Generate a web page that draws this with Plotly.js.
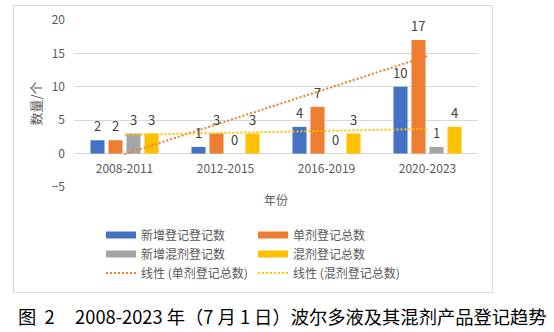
<!DOCTYPE html>
<html>
<head>
<meta charset="utf-8">
<script src="https://cdn.plot.ly/plotly-3.0.1.min.js"></script>
<style>html,body{margin:0;padding:0;background:#fff;}#chart{width:554px;height:332px;}</style>
</head>
<body>
<div id="chart"></div>
<script>
// ---- data ----
const categories = ['2008-2011', '2012-2015', '2016-2019', '2020-2023'];
const newSingle = [2, 1, 4, 10];     // 新增登记登记数
const totalSingle = [2, 3, 7, 17];   // 单剂登记总数
const newMix = [3, 0, 0, 1];         // 新增混剂登记数
const totalMix = [3, 3, 3, 4];       // 混剂登记总数
const seriesNames = ['新增登记登记数', '单剂登记总数', '新增混剂登记数', '混剂登记总数'];
const trendNames = ['线性 (单剂登记总数)', '线性 (混剂登记总数)'];
const yTicks = [-5, 0, 5, 10, 15, 20];
const yTitle = '数量/个';
const xTitle = '年份';
const caption = '图\u00a0\u00a02\u00a0\u00a0\u00a0\u00a0\u00a02008-2023 年（7 月 1 日）波尔多液及其混剂产品登记趋势';

// ---- styles ----
const colors = ['#4472C4', '#ED7D31', '#A5A5A5', '#FFC000'];
const FONT = '"Noto Sans CJK SC", "Noto Sans", sans-serif';
const W = 554, H = 332;
const M = {l: 74, r: 76, t: 20, b: 145};
const plotW = W - M.l - M.r, plotH = H - M.t - M.b;
const yRange = [yTicks[0], yTicks[yTicks.length - 1]];
const bargap = 0.287, bargroupgap = 0.22;
const px2x = p => (p - M.l) / plotW;
const px2y = p => (H - M.b - p) / plotH;

const allSeries = [newSingle, totalSingle, newMix, totalMix];
const traces = [];
allSeries.forEach((vals, s) => {
  traces.push({
    type: 'bar', x: categories, y: vals, name: seriesNames[s],
    marker: {color: colors[s]}, showlegend: false, hoverinfo: 'skip'
  });
});

function linfit(vals) {
  const n = vals.length;
  const xs = vals.map((_, i) => i + 1);
  const mx = xs.reduce((a, b) => a + b, 0) / n;
  const my = vals.reduce((a, b) => a + b, 0) / n;
  let num = 0, den = 0;
  xs.forEach((x, i) => { num += (x - mx) * (vals[i] - my); den += (x - mx) * (x - mx); });
  const k = num / den, b = my - k * mx;
  return xs.map(x => b + k * x);
}
[[totalSingle, colors[1]], [totalMix, colors[3]]].forEach(([vals, c], i) => {
  traces.push({
    type: 'scatter', mode: 'lines', x: categories, y: linfit(vals),
    line: {color: c, width: 2, dash: '2px,2px'}, name: trendNames[i],
    legend: 'legend3', hoverinfo: 'skip'
  });
});
// legend swatches
const legendOf = ['legend', 'legend', 'legend2', 'legend2'];
seriesNames.forEach((nm, s) => {
  traces.push({
    type: 'scatter', mode: 'lines', x: [null], y: [null], name: nm,
    line: {color: colors[s], width: 7}, legend: legendOf[s], hoverinfo: 'skip'
  });
});

// data labels
const slot = plotW / categories.length * (1 - bargap) / allSeries.length;
const annotations = [];
allSeries.forEach((vals, s) => {
  vals.forEach((v, j) => {
    annotations.push({
      x: categories[j], y: v, xref: 'x', yref: 'y', text: String(v),
      showarrow: false, xanchor: 'center', yanchor: 'bottom',
      xshift: (s - (allSeries.length - 1) / 2) * slot, yshift: 3,
      font: {family: FONT, size: 13, color: '#404040'}
    });
  });
});
annotations.push({
  x: px2x(16), y: px2y(316), xref: 'paper', yref: 'paper', text: caption,
  showarrow: false, xanchor: 'left', yanchor: 'middle',
  font: {family: FONT, size: 18.3, color: '#000000'}
});

const legendBase = {
  orientation: 'h', xanchor: 'left', yanchor: 'middle', bgcolor: 'rgba(0,0,0,0)',
  entrywidth: 107, entrywidthmode: 'pixels', itemclick: false,
  font: {family: FONT, size: 12, color: '#595959'}, traceorder: 'normal'
};

const layout = {
  width: W, height: H, margin: M,
  paper_bgcolor: '#fff', plot_bgcolor: '#fff',
  barmode: 'group', bargap: bargap, bargroupgap: bargroupgap,
  font: {family: FONT, size: 12, color: '#595959'},
  xaxis: {
    type: 'category', anchor: 'free',
    position: (0 - yRange[0]) / (yRange[1] - yRange[0]),
    showline: false, showgrid: false, ticks: '', zeroline: false, ticklabelstandoff: 6,
    tickfont: {family: FONT, size: 12, color: '#595959'},
    title: {text: xTitle, standoff: 22, font: {family: FONT, size: 12, color: '#595959'}}
  },
  yaxis: {
    range: yRange, tickvals: yTicks, showline: false, zeroline: false,
    gridcolor: '#D9D9D9', gridwidth: 1, ticks: '', ticklabelstandoff: 8,
    tickfont: {family: FONT, size: 12, color: '#595959'},
    title: {text: yTitle, standoff: 7, font: {family: FONT, size: 13, color: '#595959'}}
  },
  legend: Object.assign({}, legendBase, {x: px2x(101), y: px2y(235)}),
  legend2: Object.assign({}, legendBase, {x: px2x(101), y: px2y(254)}),
  legend3: Object.assign({}, legendBase, {x: px2x(101), y: px2y(273)}),
  annotations: annotations,
  shapes: [{
    type: 'rect', xref: 'paper', yref: 'paper', layer: 'below',
    x0: px2x(13.5), x1: px2x(492.5), y0: px2y(292.5), y1: px2y(5.5),
    line: {color: '#D9D9D9', width: 1}, fillcolor: 'rgba(0,0,0,0)'
  }]
};

Plotly.newPlot('chart', traces, layout, {staticPlot: true, displayModeBar: false});
</script>
</body>
</html>
